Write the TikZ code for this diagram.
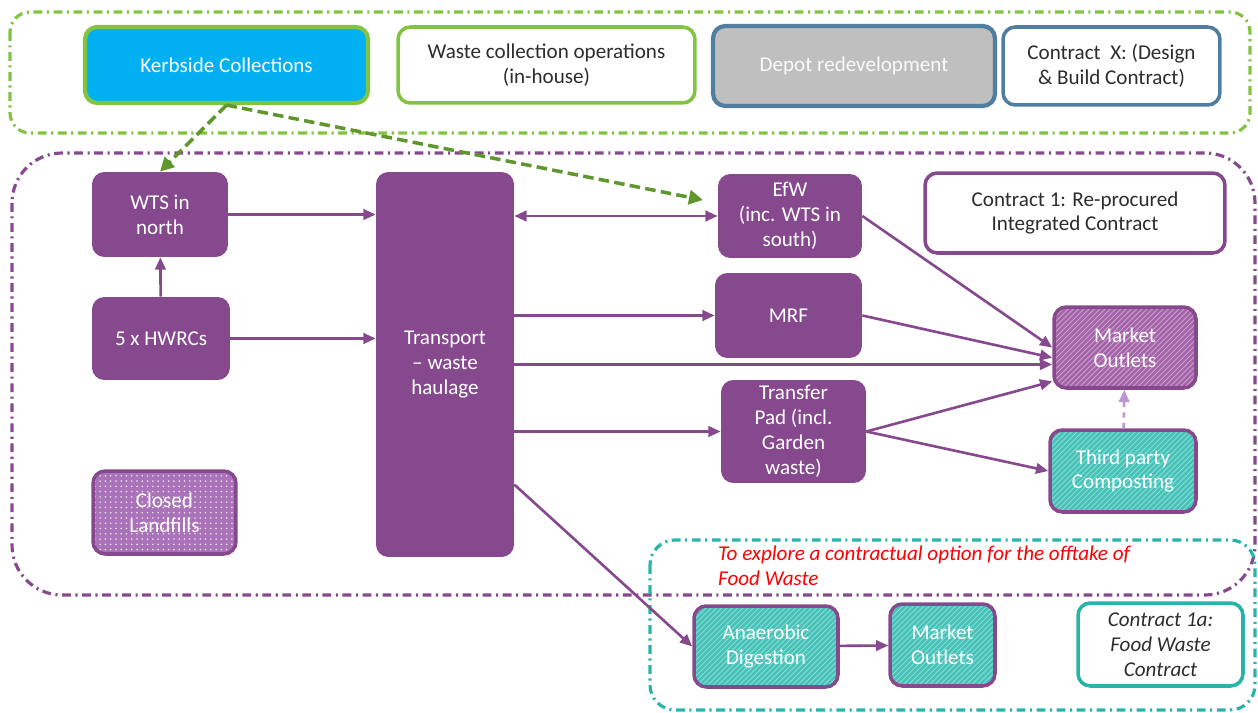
\documentclass[tikz,border=0pt]{standalone}
\usepackage{fontspec}
\setmainfont{Carlito}
\usetikzlibrary{arrows.meta,patterns}
\definecolor{WMpurple}{RGB}{134,73,142}
\definecolor{WMlilac}{RGB}{190,150,210}
\definecolor{WMhatch}{RGB}{165,100,170}
\definecolor{WMdots}{RGB}{170,115,185}
\definecolor{WMteal}{RGB}{70,195,185}
\definecolor{WMtealline}{RGB}{40,180,170}
\definecolor{WMkerb}{RGB}{0,176,240}
\definecolor{WMlime}{RGB}{130,195,65}
\definecolor{WMgreen}{RGB}{95,150,45}
\definecolor{WMgrey}{RGB}{191,191,191}
\definecolor{WMsteel}{RGB}{80,126,160}
\definecolor{WMtext}{RGB}{45,45,45}
\tikzset{
  box/.style={rounded corners=7pt, align=center, inner sep=2pt, font=\fontsize{12}{14.2}\selectfont},
  pbox/.style={box, fill=WMpurple, text=white},
  wbox/.style={box, fill=white, text=WMtext, line width=2pt},
  hatchbox/.style={box, draw=WMpurple, line width=2pt, text=white, preaction={fill=#1}, pattern=north east lines, pattern color=white!45!#1},
  group/.style={line width=1.8pt, dash pattern=on 5pt off 2.6pt on 1.2pt off 2.6pt},
  parrow/.style={draw=WMpurple, line width=1.5pt, -{Triangle[length=7pt,width=6pt]}},
  garrow/.style={draw=WMgreen, line width=2pt, dash pattern=on 6pt off 3pt, -{Triangle[length=8pt,width=8pt]}}
}
\begin{document}
\begin{tikzpicture}[x=0.02cm, y=-0.02cm]
	\useasboundingbox (0,0) rectangle (1258,713);
	% contract groups
	\draw[group, WMlime, rounded corners=0.4cm] (10,12) rectangle (1250,133);
	\draw[group, WMpurple, rounded corners=1cm] (12,153) rectangle (1255,595);
	\draw[group, WMtealline, rounded corners=0.5cm] (650,540) rectangle (1255,710);
	% top row
	\node[box, fill=WMkerb, draw=WMlime, line width=2.4pt, text=white, minimum width=5.66cm, minimum height=1.52cm] (kerb) at (226.5,65) {Kerbside Collections};
	\node[wbox, draw=WMlime, minimum width=5.94cm, minimum height=1.52cm] (wco) at (546.5,65) {Waste collection operations\\(in-house)};
	\node[box, fill=WMgrey, draw=WMsteel, line width=2.4pt, text=white!92!WMgrey, minimum width=5.64cm, minimum height=1.6cm] (depot) at (854,66) {Depot redevelopment};
	\node[wbox, draw=WMsteel, minimum width=4.34cm, minimum height=1.56cm] (cx) at (1111.5,66) {Contract\ \ X: (Design\\\& Build Contract)};
	% contract 1
	\node[pbox, minimum width=2.72cm, minimum height=1.7cm] (wts) at (160,214.5) {WTS in\\north};
	\node[pbox, minimum width=2.76cm, minimum height=1.66cm] (hwrc) at (161,338.5) {5 x HWRCs};
	\node[box, draw=WMpurple, line width=2pt, text=white, preaction={fill=WMdots}, pattern=dots, pattern color=white!80!WMdots, minimum width=2.86cm, minimum height=1.66cm] (landfill) at (164.5,512.5) {Closed\\Landfills};
	\node[pbox, minimum width=2.76cm, minimum height=7.7cm] (trans) at (445,364.5) {Transport\\\textendash\ waste\\haulage};
	\node[pbox, minimum width=2.88cm, minimum height=1.68cm] (efw) at (790,216) {EfW\\(inc. WTS in\\south)};
	\node[pbox, minimum width=2.94cm, minimum height=1.7cm] (mrf) at (788.5,315.5) {MRF};
	\node[pbox, minimum width=2.9cm, minimum height=2.06cm] (tpad) at (793.5,431.5) {Transfer\\Pad (incl.\\Garden\\waste)};
	\node[wbox, draw=WMpurple, minimum width=6cm, minimum height=1.6cm] (c1) at (1075,213) {Contract 1: Re-procured\\Integrated Contract};
	\node[hatchbox=WMhatch, minimum width=2.84cm, minimum height=1.62cm] (mkt) at (1125,347.5) {Market\\Outlets};
	\node[hatchbox=WMteal, minimum width=2.92cm, minimum height=1.64cm] (comp) at (1123,471) {Third party\\Composting};
	% contract 1a
	\node[anchor=west, align=left, text=red, font=\fontsize{12}{14.2}\selectfont\itshape] (note) at (712,566) {To explore a contractual option for the offtake of\\Food Waste};
	\node[hatchbox=WMteal, minimum width=2.88cm, minimum height=1.62cm] (ad) at (766,646.5) {Anaerobic\\Digestion};
	\node[hatchbox=WMteal, minimum width=2.1cm, minimum height=1.64cm] (mo2) at (942.5,645) {Market\\Outlets};
	\node[wbox, draw=WMtealline, font=\fontsize{12}{14.2}\selectfont\itshape, minimum width=3.3cm, minimum height=1.66cm] (c1a) at (1160.5,644.5) {Contract 1a:\\Food Waste\\Contract};
	% flows
	\coordinate (efwin) at (703,200);
	\draw[garrow] (kerb.south) -- (wts.north);
	\draw[garrow] (kerb.south) -- (efwin);
	\draw[parrow] (hwrc) -- (wts);
	\draw[parrow] (wts) -- (wts -| trans.west);
	\draw[parrow] (hwrc) -- (hwrc -| trans.west);
	\draw[parrow, {Triangle[length=7pt,width=6pt]}-{Triangle[length=7pt,width=6pt]}] (trans.east |- efw) -- (efw);
	\draw[parrow] (trans.east |- mrf) -- (mrf);
	\draw[parrow] (trans.east) -- (trans.east -| mkt.west);
	\draw[parrow] (trans.east |- tpad) -- (tpad);
	\draw[parrow] (trans.-60.6) -- (ad.west);
	\draw[parrow] (efw.east) -- (mkt.west);
	\draw[parrow] (mrf.east) -- (mkt.188);
	\draw[parrow] (tpad.east) -- (mkt.205);
	\draw[parrow] (tpad.east) -- (comp.west);
	\draw[parrow, draw=WMlilac, dashed] (comp) -- (mkt);
	\draw[parrow] (ad) -- (mo2);
\end{tikzpicture}
\end{document}
